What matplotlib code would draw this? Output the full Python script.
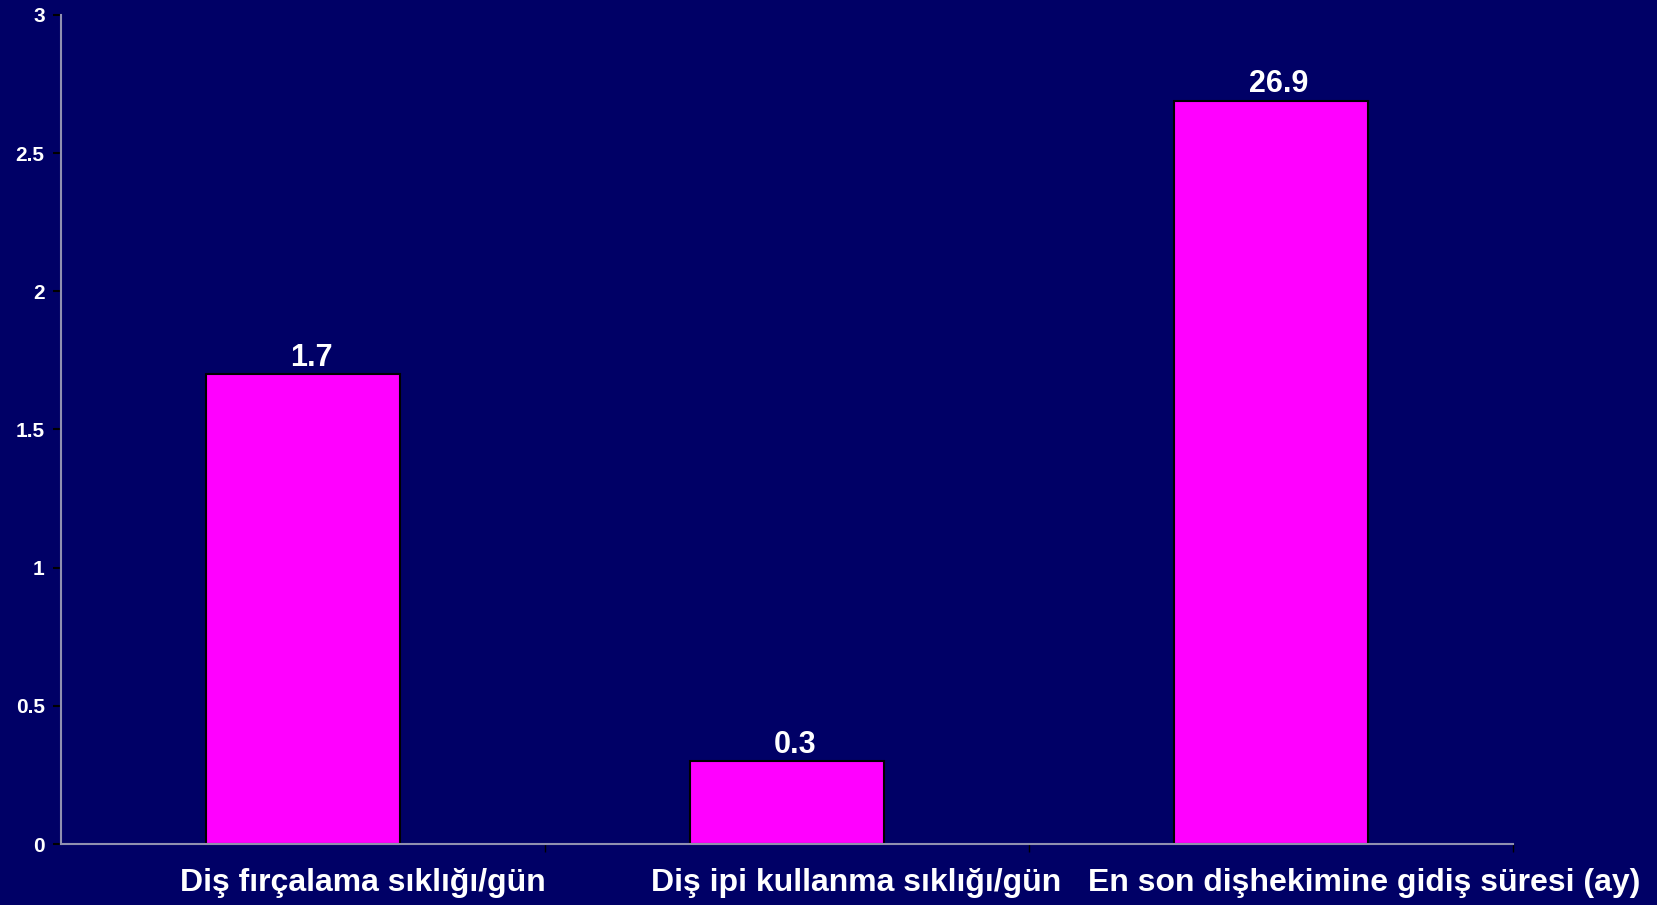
import matplotlib.pyplot as plt
import matplotlib.transforms as mtransforms

categories = ['Diş fırçalama sıklığı/gün', 'Diş ipi kullanma sıklığı/gün',
              'En son dişhekimine gidiş süresi (ay)']
# plotted heights (third bar drawn scaled by 1/10 in the original)
heights = [1.7, 0.3, 2.69]
value_labels = ['1.7', '0.3', '26.9']
yticks = [0, 0.5, 1, 1.5, 2, 2.5, 3]
ytick_labels = ['0', '0.5', '1', '1.5', '2', '2.5', '3']

bg = '#000066'
plt.rcParams['font.family'] = ['Liberation Sans', 'DejaVu Sans']
plt.rcParams['font.weight'] = 'bold'

fig = plt.figure(figsize=(16.57, 9.05), dpi=100, facecolor=bg)
ax = fig.add_axes([0.037, 0.0674, 0.876, 0.9162], facecolor=bg)

x = list(range(len(categories)))
bars = ax.bar(x, heights, width=0.4, color='#FF00FF', edgecolor='black', linewidth=1.5, zorder=2)
label_shift = mtransforms.ScaledTranslation(0.08, 0, fig.dpi_scale_trans)
for b, lab in zip(bars, value_labels):
    ax.text(b.get_x() + b.get_width() / 2, b.get_height() + 0.005, lab,
            ha='center', va='bottom', color='white', fontsize=22, fontweight='bold',
            transform=ax.transData + label_shift)

ax.set_xlim(-0.5, len(categories) - 0.5)
ax.set_ylim(0, 3)
ax.set_yticks(yticks)
ax.set_yticklabels(ytick_labels)
ax.tick_params(axis='y', colors='black', labelcolor='white', labelsize=15, length=6, width=1.5, pad=6)

ax.set_xticks(x)
ax.set_xticklabels(categories)
ax.tick_params(axis='x', which='major', length=0, labelcolor='white', labelsize=23, pad=17)
ax.set_xticks([i + 0.5 for i in x], minor=True)
ax.tick_params(axis='x', which='minor', length=6, width=1, colors='black')

# the original labels sit a little right of the category centres
shifts = [60, 69, 93]
for lab, dx in zip(ax.get_xticklabels(), shifts):
    lab.set_transform(lab.get_transform() + mtransforms.ScaledTranslation(dx / 100, 0, fig.dpi_scale_trans))

for s in ['top', 'right']:
    ax.spines[s].set_visible(False)
for s in ['left', 'bottom']:
    ax.spines[s].set_color('#9090B0')
    ax.spines[s].set_linewidth(1.5)

fig.savefig('out.png', dpi=100, facecolor=bg)
